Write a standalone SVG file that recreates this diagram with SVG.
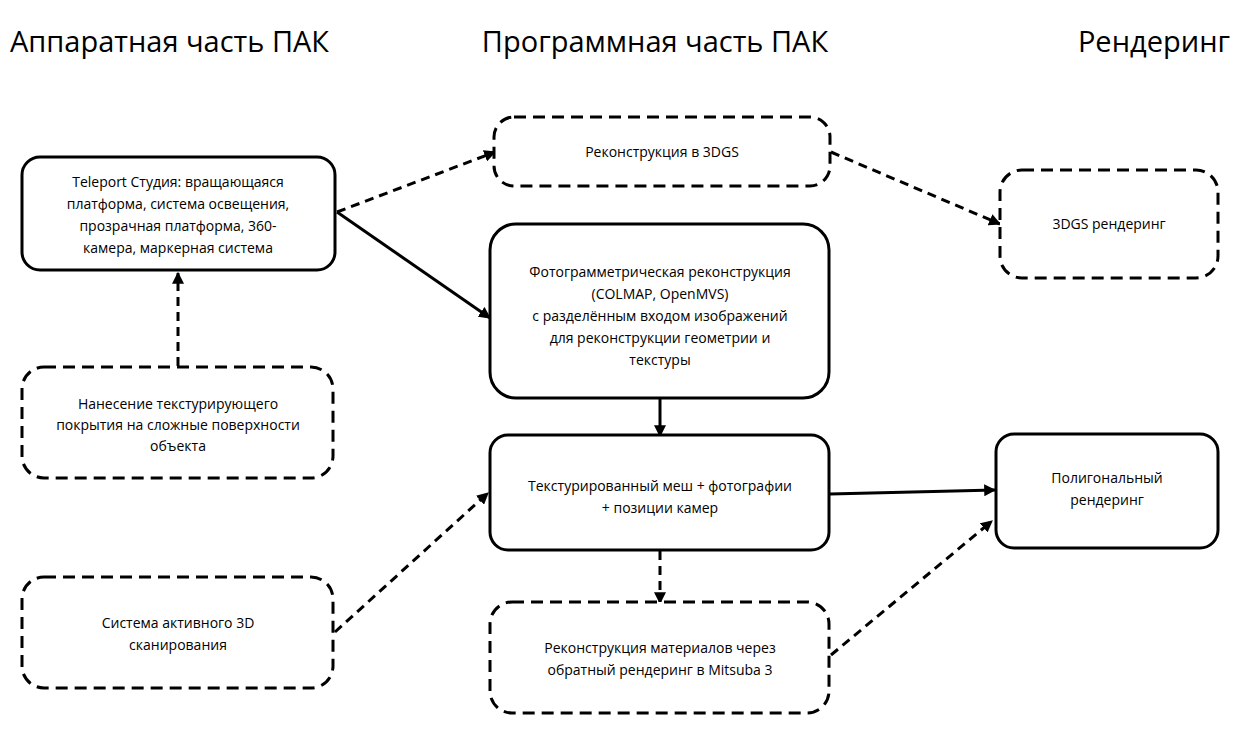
<svg xmlns="http://www.w3.org/2000/svg" width="1247" height="743" viewBox="0 0 1247 743">
<style>
.t{font-family:"Open Sans","Liberation Sans",sans-serif;font-size:29px;fill:#000}
.n{font-family:"Open Sans","Liberation Sans",sans-serif;font-size:14px;fill:#000;text-anchor:middle}
.s{fill:#fff;stroke:#000;stroke-width:3}
.d{fill:#fff;stroke:#000;stroke-width:3;stroke-dasharray:12 7}
.c{fill:none;stroke:#000;stroke-width:3;marker-end:url(#a)}
.cd{fill:none;stroke:#000;stroke-width:3;stroke-dasharray:9 6;marker-end:url(#a)}
</style>
<defs><marker id="a" viewBox="0 0 10 10" refX="9" refY="5" markerWidth="4" markerHeight="4" orient="auto"><path d="M0,0L10,5L0,10z" fill="#000"/></marker></defs>
<rect width="1247" height="743" fill="#fff"/>
<text class="t" x="10" y="52">Аппаратная часть ПАК</text>
<text class="t" x="655" y="52" text-anchor="middle">Программная часть ПАК</text>
<text class="t" x="1230" y="52" text-anchor="end">Рендеринг</text>
<g id="connectors">
<path class="cd" d="M337,212L495,152"/>
<path class="cd" d="M831,152L1000,224"/>
<path class="c" d="M337,212L490,318"/>
<path class="cd" d="M178,366L178,273"/>
<path class="c" d="M660,399L660,436"/>
<path class="cd" d="M335,632L488,493"/>
<path class="c" d="M830,494L995,490"/>
<path class="cd" d="M660,551L660,603"/>
<path class="cd" d="M831,655L992,521"/>
</g>
<g id="n1"><rect class="s" x="22" y="157" width="313" height="113" rx="18"/>
<text class="n" x="178" y="187">Teleport Студия: вращающаяся</text><text class="n" x="178" y="209">платформа, система освещения,</text><text class="n" x="178" y="231">прозрачная платформа, 360-</text><text class="n" x="178" y="253">камера, маркерная система</text></g>
<g id="n2"><rect class="d" x="22" y="367" width="311" height="111" rx="22"/>
<text class="n" x="178" y="409">Нанесение текстурирующего</text><text class="n" x="178" y="430">покрытия на сложные поверхности</text><text class="n" x="178" y="451">объекта</text></g>
<g id="n3"><rect class="d" x="22" y="577" width="311" height="111" rx="22"/>
<text class="n" x="178" y="628">Система активного 3D</text><text class="n" x="178" y="650">сканирования</text></g>
<g id="n4"><rect class="d" x="494" y="117" width="336" height="69" rx="20"/>
<text class="n" x="662" y="157">Реконструкция в 3DGS</text></g>
<g id="n5"><rect class="s" x="490" y="224" width="339" height="174" rx="26"/>
<text class="n" x="660" y="277">Фотограмметрическая реконструкция</text><text class="n" x="660" y="299">(COLMAP, OpenMVS)</text><text class="n" x="660" y="321">с разделённым входом изображений</text><text class="n" x="660" y="343">для реконструкции геометрии и</text><text class="n" x="660" y="365">текстуры</text></g>
<g id="n6"><rect class="s" x="490" y="435" width="339" height="115" rx="18"/>
<text class="n" x="660" y="491">Текстурированный меш + фотографии</text><text class="n" x="660" y="513">+ позиции камер</text></g>
<g id="n7"><rect class="d" x="490" y="602" width="339" height="111" rx="22"/>
<text class="n" x="660" y="653">Реконструкция материалов через</text><text class="n" x="660" y="675">обратный рендеринг в Mitsuba 3</text></g>
<g id="n8"><rect class="d" x="1000" y="170" width="218" height="108" rx="22"/>
<text class="n" x="1109" y="229">3DGS рендеринг</text></g>
<g id="n9"><rect class="s" x="996" y="434" width="222" height="114" rx="18"/>
<text class="n" x="1107" y="483">Полигональный</text><text class="n" x="1107" y="505">рендеринг</text></g>
</svg>
